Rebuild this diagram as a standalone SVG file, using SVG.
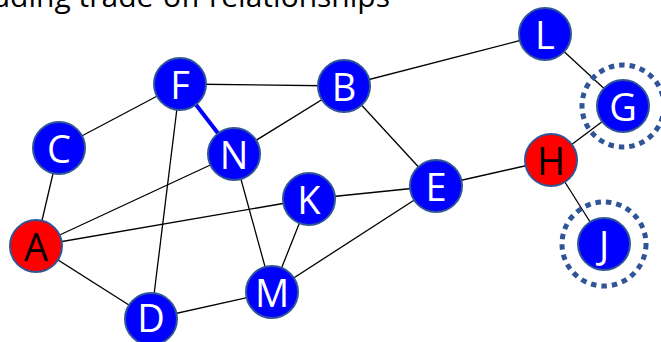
<svg xmlns="http://www.w3.org/2000/svg" width="661" height="342" viewBox="0 0 661 342">
<style>
.e{stroke:#000;stroke-width:1.3;fill:none}
.n circle{stroke:#2F5597;stroke-width:2}
.b circle{fill:#0000FF}
.r circle{fill:#FF0000}
.n circle.ring{fill:none;stroke:#2F5597;stroke-width:5;stroke-dasharray:5.5 5}
.n text{font-family:"Open Sans","Noto Sans",sans-serif;font-size:38px;text-anchor:middle;dominant-baseline:central}
.b text{fill:#fff}
.r text{fill:#000}
</style>
<rect width="661" height="342" fill="#fff"/>
<text x="390" y="7" font-family="Open Sans, sans-serif" font-size="30" text-anchor="end" fill="#000">uding trade-off relationships</text>
<g id="connectors">
<line class="e" x1="180" y1="84" x2="59" y2="148"/>
<line class="e" x1="180" y1="84" x2="344" y2="86"/>
<line class="e" x1="180" y1="84" x2="151" y2="319"/>
<line class="e" x1="344" y1="86" x2="234" y2="154"/>
<line class="e" x1="344" y1="86" x2="436" y2="186"/>
<line class="e" x1="344" y1="86" x2="545" y2="34"/>
<line class="e" x1="545" y1="34" x2="623" y2="106"/>
<line class="e" x1="623" y1="106" x2="551" y2="160"/>
<line class="e" x1="551" y1="160" x2="436" y2="186"/>
<line class="e" x1="551" y1="160" x2="604" y2="244"/>
<line class="e" x1="59" y1="148" x2="36" y2="246"/>
<line class="e" x1="36" y1="246" x2="234" y2="154"/>
<line class="e" x1="36" y1="246" x2="309" y2="199"/>
<line class="e" x1="36" y1="246" x2="151" y2="319"/>
<line class="e" x1="234" y1="154" x2="272" y2="292"/>
<line class="e" x1="309" y1="199" x2="436" y2="186"/>
<line class="e" x1="309" y1="199" x2="272" y2="292"/>
<line class="e" x1="272" y1="292" x2="436" y2="186"/>
<line class="e" x1="272" y1="292" x2="151" y2="319"/>
<line x1="180" y1="84" x2="234" y2="154" stroke="#0000FF" stroke-width="4"/>
</g>
<g id="F" class="n b"><circle cx="180" cy="84" r="26"/><text x="180" y="84">F</text></g>
<g id="B" class="n b"><circle cx="344" cy="86" r="26"/><text x="344" y="86">B</text></g>
<g id="L" class="n b"><circle cx="545" cy="34" r="26"/><text x="545" y="34">L</text></g>
<g id="G" class="n b"><circle class="ring" cx="623" cy="106" r="41"/><circle cx="623" cy="106" r="26"/><text x="623" y="106">G</text></g>
<g id="C" class="n b"><circle cx="59" cy="148" r="26"/><text x="59" y="148">C</text></g>
<g id="N" class="n b"><circle cx="234" cy="154" r="26"/><text x="234" y="154">N</text></g>
<g id="H" class="n r"><circle cx="551" cy="160" r="26"/><text x="551" y="160">H</text></g>
<g id="K" class="n b"><circle cx="309" cy="199" r="26"/><text x="309" y="199">K</text></g>
<g id="E" class="n b"><circle cx="436" cy="186" r="26"/><text x="436" y="186">E</text></g>
<g id="A" class="n r"><circle cx="36" cy="246" r="26"/><text x="36" y="246">A</text></g>
<g id="J" class="n b"><circle class="ring" cx="604" cy="244" r="42"/><circle cx="604" cy="244" r="26"/><text x="604" y="244">J</text></g>
<g id="M" class="n b"><circle cx="272" cy="292" r="26"/><text x="272" y="292">M</text></g>
<g id="D" class="n b"><circle cx="151" cy="319" r="26"/><text x="151" y="317">D</text></g>
</svg>
